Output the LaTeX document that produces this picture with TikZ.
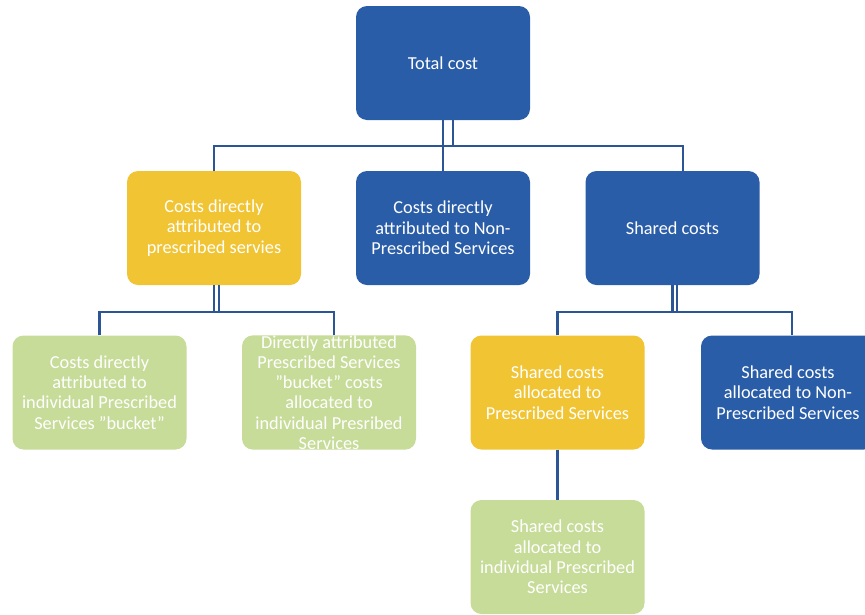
\documentclass[tikz,border=0pt]{standalone}
\usepackage{fontspec}
\setmainfont{Carlito}
\definecolor{boxblue}{HTML}{2A5DA8}
\definecolor{boxyellow}{HTML}{F0C433}
\definecolor{boxgreen}{HTML}{C7DC99}
\definecolor{linkblue}{HTML}{2C5596}
\begin{document}
\begin{tikzpicture}[x=1pt,y=-1pt,
  box/.style={rounded corners=11pt, minimum width=174pt, minimum height=114pt,
    text=white, align=center, font=\fontsize{18.3}{20.3}\selectfont, inner sep=0pt},
  bluebox/.style={box, fill=boxblue},
  yellowbox/.style={box, fill=boxyellow},
  greenbox/.style={box, fill=boxgreen},
  conn/.style={draw=linkblue, line width=2.6pt}]
\useasboundingbox (0,0) rectangle (865,614);
\node[bluebox] (total) at (443,63) {Total cost};
\node[yellowbox] (c1) at (214,228) {Costs directly\\attributed to\\prescribed servies};
\node[bluebox] (c2) at (443,228) {Costs directly\\attributed to Non-\\Prescribed Services};
\node[bluebox] (c3) at (672.5,228) {Shared costs};
\node[greenbox] (g1) at (99.5,392.5) {Costs directly\\attributed to\\individual Prescribed\\Services "bucket"};
\node[greenbox] (g2) at (329,392.5) {Directly attributed\\Prescribed Services\\"bucket" costs\\allocated to\\individual Presribed\\Services};
\node[yellowbox] (y2) at (557.5,392.5) {Shared costs\\allocated to\\Prescribed Services};
\node[bluebox] (b2) at (788,392.5) {Shared costs\\allocated to Non-\\Prescribed Services};
\node[greenbox] (g3) at (557.5,557) {Shared costs\\allocated to\\individual Prescribed\\Services};
% top level
\coordinate (bar1) at (0,146);
\coordinate (t1) at (683,0);
\draw[conn] (total.south) -- (c2.north);
\draw[conn] ([xshift=10pt]total.south) -- ([xshift=10pt]total.south |- bar1);
\draw[conn] (c1.north) -- (c1.north |- bar1) -- (t1 |- bar1) -- (t1 |- c3.north);
% under c1
\coordinate (bar2) at (0,312);
\coordinate (g2x) at (334,0);
\draw[conn] (c1.south) -- (c1.south |- bar2);
\draw[conn] ([xshift=5pt]c1.south) -- ([xshift=5pt]c1.south |- bar2);
\draw[conn] (g1.north) -- (g1.north |- bar2) -- (g2x |- bar2) -- (g2x |- g2.north);
% under c3
\coordinate (b2x) at (792,0);
\draw[conn] (c3.south) -- (c3.south |- bar2);
\draw[conn] ([xshift=4.5pt]c3.south) -- ([xshift=4.5pt]c3.south |- bar2);
\draw[conn] (y2.north) -- (y2.north |- bar2) -- (b2x |- bar2) -- (b2x |- b2.north);
% under y2
\draw[conn] (y2.south) -- (g3.north);
\end{tikzpicture}
\end{document}
